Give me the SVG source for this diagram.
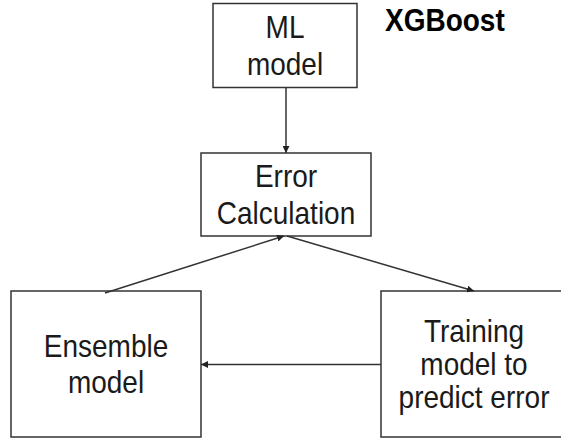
<svg xmlns="http://www.w3.org/2000/svg" width="561" height="442" viewBox="0 0 561 442">
  <style>
    .box { fill: #ffffff; stroke: #333333; stroke-width: 1.5; }
    .label { font-family: "Liberation Sans", Arial, sans-serif; font-size: 28px; fill: #1a1a1a; text-anchor: middle; }
    .title { font-family: "Liberation Sans", Arial, sans-serif; font-size: 28px; font-weight: bold; fill: #000000; }
    .edge { stroke: #333333; stroke-width: 1.5; fill: none; marker-end: url(#arrow); }
  </style>
  <defs>
    <marker id="arrow" viewBox="0 0 10 10" refX="10" refY="5" markerWidth="7" markerHeight="7" markerUnits="userSpaceOnUse" orient="auto">
      <path d="M0,0 L10,5 L0,10 z" fill="#222222"/>
    </marker>
  </defs>
  <rect width="561" height="442" fill="#ffffff"/>

  <!-- labels are drawn slightly taller than wide -->
  <text class="title" transform="translate(385 31) scale(1 1.1)">XGBoost</text>

  <g id="ml-model">
    <rect class="box" x="213" y="3.5" width="144" height="84"/>
    <text class="label" transform="translate(285 37.5) scale(1 1.12)">ML</text>
    <text class="label" transform="translate(285 75) scale(1 1.12)">model</text>
  </g>

  <g id="error-calculation">
    <rect class="box" x="201" y="153" width="170" height="83"/>
    <text class="label" transform="translate(286 187) scale(1 1.12)">Error</text>
    <text class="label" transform="translate(286 223.5) scale(1 1.12)">Calculation</text>
  </g>

  <g id="ensemble-model">
    <rect class="box" x="11" y="291" width="190" height="146"/>
    <text class="label" transform="translate(106 356.5) scale(1 1.12)">Ensemble</text>
    <text class="label" transform="translate(106 393) scale(1 1.12)">model</text>
  </g>

  <g id="training-model">
    <rect class="box" x="381" y="291" width="190" height="146"/>
    <text class="label" transform="translate(474 342) scale(1 1.12)">Training</text>
    <text class="label" transform="translate(474 375) scale(1 1.12)">model to</text>
    <text class="label" transform="translate(474 408) scale(1 1.12)">predict error</text>
  </g>

  <g id="connectors">
    <line class="edge" x1="286" y1="87.5" x2="286" y2="153"/>
    <line class="edge" x1="105" y1="293" x2="284" y2="236"/>
    <line class="edge" x1="287" y1="236" x2="474" y2="291"/>
    <line class="edge" x1="381" y1="364.5" x2="201" y2="364.5"/>
  </g>
</svg>
